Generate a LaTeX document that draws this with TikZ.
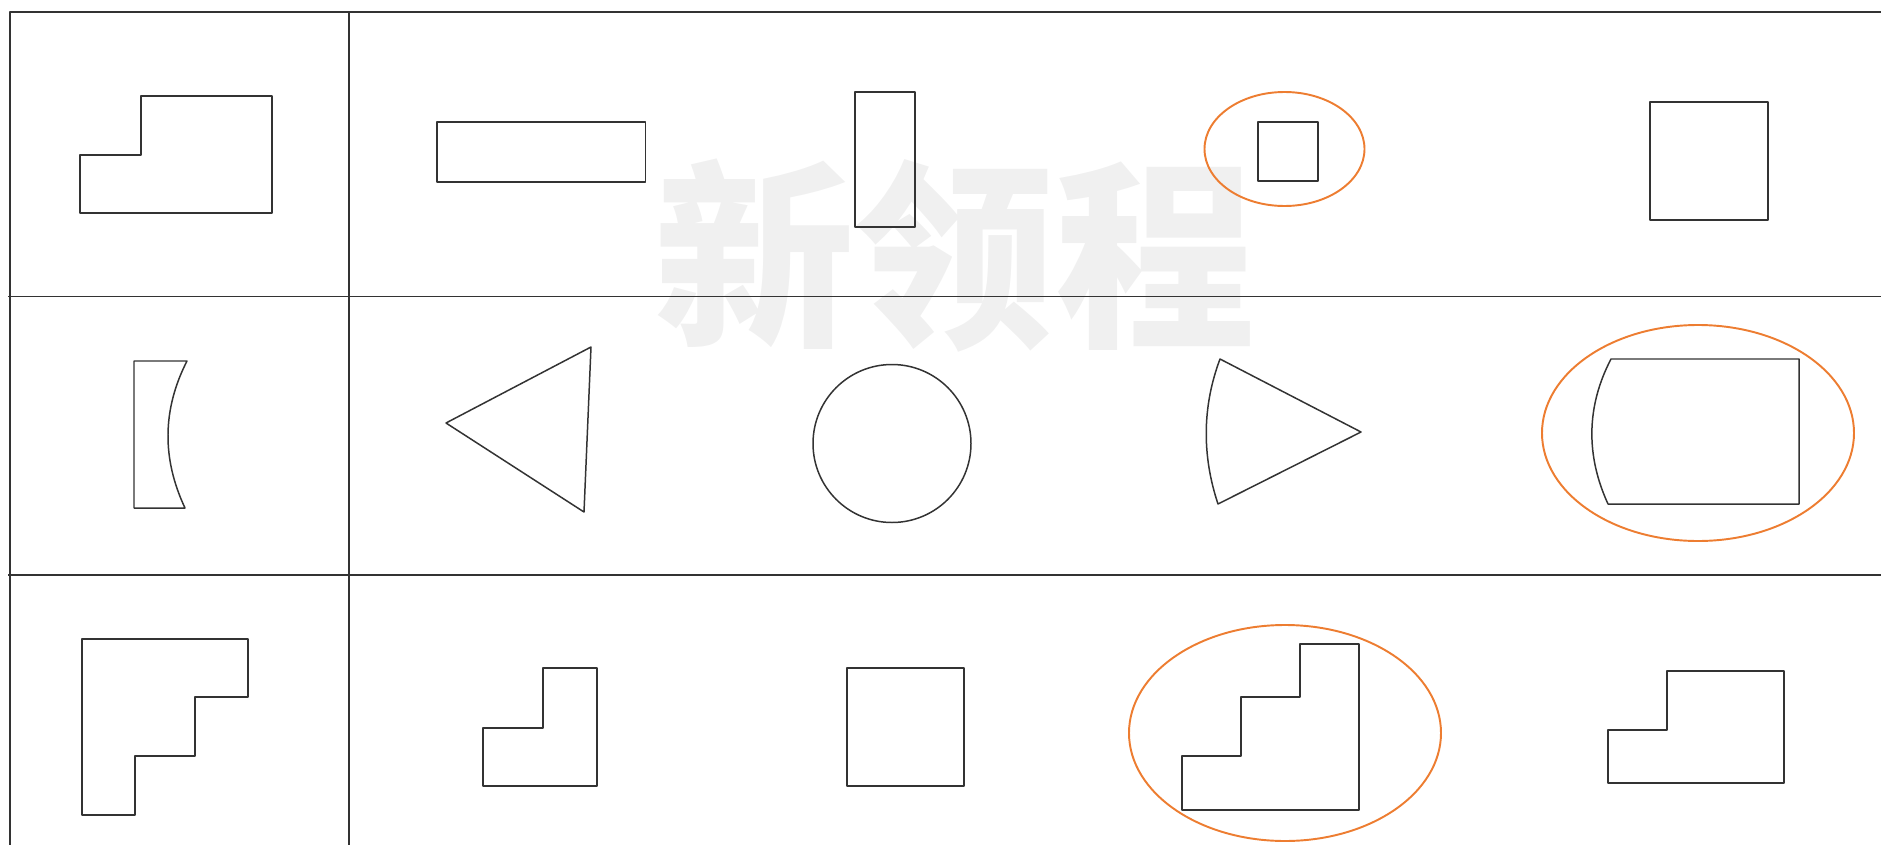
\documentclass[tikz,border=0pt]{standalone}
\usepackage{fontspec}
\usepackage{tikz}
\newfontfamily\cjkfont{Noto Sans CJK SC}
\definecolor{trait}{HTML}{333333}
\definecolor{orange_rep}{HTML}{ED7D31}
\definecolor{filigrane}{HTML}{F0F0F0}

\begin{document}
\begin{tikzpicture}[x=0.02cm,y=-0.02cm,line join=round]

    % Cadre de la page
    \useasboundingbox (0,0) rectangle (1881,845);

    % Filigrane en fond
    \node[filigrane,inner sep=0pt] (logo) at (955,256) {\cjkfont\bfseries\fontsize{114}{114}\selectfont 新领程};

    % Tableau : bordure et séparations
    \draw[trait, line width=1.5pt] (1881,12) -- (10,12) -- (10,845);
    \draw[trait, line width=0.85pt] (349,12) -- (349,845);
    \draw[trait, line width=0.85pt] (8,296.5) -- (1881,296.5);
    \draw[trait, line width=0.85pt] (8,575) -- (1881,575);

    % Première ligne
    \draw[trait, line width=0.85pt] (80,155) -- (141,155) -- (141,96) -- (272,96) -- (272,213) -- (80,213) -- cycle;
    \draw[trait, line width=0.85pt] (437,122) rectangle (645.5,182);
    \draw[trait, line width=0.85pt] (855,92) rectangle (915,227);
    \draw[trait, line width=0.85pt] (1258,122) rectangle (1318,181);
    \draw[trait, line width=0.85pt] (1650,102) rectangle (1768,220);

    % Deuxième ligne
    \draw[trait, line width=0.85pt] (134,361) -- (187,361) .. controls (162,410) and (162,459) .. (185,508) -- (134,508) -- cycle;
    \draw[trait, line width=0.85pt] (446,423) -- (591,347) -- (584,512) -- cycle;
    \draw[trait, line width=0.85pt] (892,443.5) circle (79);
    \draw[trait, line width=0.85pt] (1220,359) -- (1361,432) -- (1218,504) .. controls (1202,456) and (1202,407) .. (1220,359) -- cycle;
    \draw[trait, line width=0.85pt] (1611,359) -- (1799,359) -- (1799,504) -- (1608,504) .. controls (1586,456) and (1586,407) .. (1611,359) -- cycle;

    % Troisième ligne
    \draw[trait, line width=0.85pt] (82,639) -- (248,639) -- (248,697) -- (195,697) -- (195,756) -- (135,756) -- (135,815) -- (82,815) -- cycle;
    \draw[trait, line width=0.85pt] (483,728) -- (543,728) -- (543,668) -- (597,668) -- (597,786) -- (483,786) -- cycle;
    \draw[trait, line width=0.85pt] (847,668) rectangle (964,786);
    \draw[trait, line width=0.85pt] (1182,810) -- (1359,810) -- (1359,644) -- (1300,644) -- (1300,697) -- (1241,697) -- (1241,756) -- (1182,756) -- cycle;
    \draw[trait, line width=0.85pt] (1608,730) -- (1667,730) -- (1667,671) -- (1784,671) -- (1784,783) -- (1608,783) -- cycle;

    % Ellipses orange autour des figures repérées
    \coordinate (E1) at (1284.5,149);
    \coordinate (E2) at (1698,433);
    \coordinate (E3) at (1285,733);
    \draw[orange_rep, line width=1.1pt] (E1) ellipse [x radius=80, y radius=57];
    \draw[orange_rep, line width=1.1pt] (E2) ellipse [x radius=156, y radius=108];
    \draw[orange_rep, line width=1.1pt] (E3) ellipse [x radius=156, y radius=108];
\end{tikzpicture}
\end{document}
